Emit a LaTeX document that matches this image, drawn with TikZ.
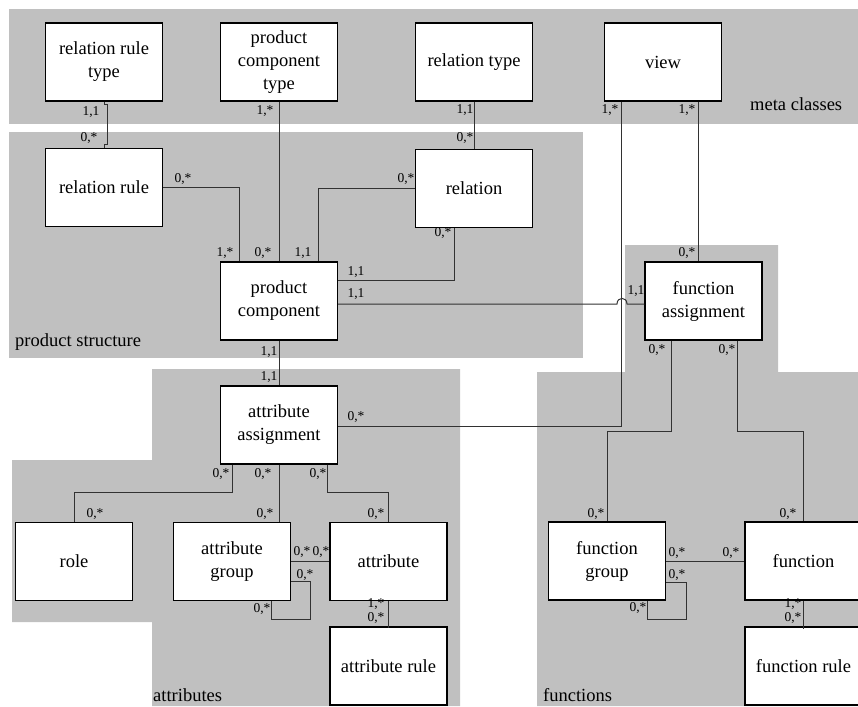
\documentclass[tikz,border=0pt]{standalone}
\usepackage{fontspec}
\setmainfont{Liberation Serif}
\usetikzlibrary{calc}
\definecolor{regiongray}{RGB}{192,192,192}
\definecolor{linegray}{RGB}{50,50,50}
\begin{document}
\begin{tikzpicture}[x=1pt,y=-1pt,
  box/.style={draw=black, line width=1.1pt, fill=white, minimum width=117pt, minimum height=78pt, inner sep=0pt, align=center, font=\fontsize{18.5}{23}\selectfont},
  conn/.style={draw=linegray, line width=1pt},
  mult/.style={font=\fontsize{13.5}{14}\selectfont, inner sep=0pt},
  region/.style={fill=regiongray, draw=none},
  rlabel/.style={font=\fontsize{18.5}{22}\selectfont, inner sep=0pt, anchor=west}]
\clip (0,0) rectangle (858,706);
\fill[white] (0,0) rectangle (858,706);
% regions
\fill[region] (9,9) rectangle (858,124);
\fill[region] (9,132) rectangle (583,358);
\fill[region] (537,372) -- (625,372) -- (625,245) -- (778,245) -- (778,372) -- (858,372) -- (858,706) -- (537,706) -- cycle;
\fill[region] (152,369) -- (460,369) -- (460,706) -- (152,706) -- (152,622) -- (12,622) -- (12,460) -- (152,460) -- cycle;
\node[rlabel] (lmeta) at (750,104) {meta classes};
\node[rlabel] (lprod) at (15,342) {product structure};
\node[rlabel] (lattr) at (153,695) {attributes};
\node[rlabel] (lfunc) at (543,695) {functions};
% nodes
\node[box] (rrt) at (104,62) {relation rule\\type};
\node[box] (pct) at (279,62) {product\\component\\type};
\node[box] (rt) at (474,62) {relation type};
\node[box] (view) at (663,62) {view};
\node[box] (rr) at (104,187.5) {relation rule};
\node[box] (rel) at (474,188.5) {relation};
\node[box] (pc) at (279,301) {product\\component};
\node[box] (fa) at (703.5,301) {function\\assignment};
\node[box] (aa) at (279,425) {attribute\\assignment};
\node[box] (role) at (74,561.5) {role};
\node[box] (ag) at (232,561.5) {attribute\\group};
\node[box] (attr) at (388.5,561.5) {attribute};
\node[box] (ar) at (388.5,666) {attribute rule};
\node[box] (fg) at (607,561) {function\\group};
\node[box] (fn) at (803.5,561) {function};
\node[box] (fr) at (803.5,666) {function rule};
% connectors
\draw[conn] (rrt.south) -- ++(0,3) -- ++(3,0) |- ($(rr.north)+(3,-3)$) -- ++(-3,0) -- (rr.north);
\draw[conn] (pct.south) -- (pc.north);
\draw[conn] (rt.south) -- (rel.north);
\coordinate (b1) at ($(pc.north west)+(20,0)$);
\draw[conn] (rr.east) -| (b1);
\coordinate (b2) at ($(pc.north west)+(99,0)$);
\draw[conn] (rel.west) -| (b2);
\coordinate (b3) at ($(rel.south west)+(40,0)$);
\coordinate (b4) at ($(pc.north east)+(0,19)$);
\draw[conn] (b3) |- (b4);
\coordinate (h0) at ($(pc.east)+(0,3)$);
\coordinate (h1) at ($(fa.west)+(0,3)$);
\draw[conn] (h0) -- (617,304) .. controls (617,296.5) and (627,296.5) .. (627,304) -- (h1);
\coordinate (v1) at ($(view.south west)+(18,0)$);
\coordinate (v1e) at ($(aa.east)+(0,1)$);
\draw[conn] (v1) |- (v1e);
\coordinate (v2) at ($(view.south)+(35,0)$);
\draw[conn] (v2) -- (v2 |- fa.north);
\draw[conn] (pc.south) -- (aa.north);
\coordinate (a1) at ($(aa.south)+(-47,0)$);
\draw[conn] (a1) -- ++(0,28) -| (role.north);
\draw[conn] (aa.south) -- (aa.south |- ag.north);
\coordinate (a3) at ($(aa.south)+(48,0)$);
\draw[conn] (a3) -- ++(0,28) -| (attr.north);
\draw[conn] (ag.east) -- (attr.west);
\coordinate (l1) at ($(ag.east)+(0,20)$);
\coordinate (l2) at ($(ag.south)+(39,0)$);
\draw[conn] (l1) -- ++(19,0) -- ++(0,37.5) -| (l2);
\coordinate (r1) at ($(ar.north)+(0,2)$);
\draw[conn] (attr.south) -- (r1);
\coordinate (f1) at ($(fa.south)+(-32.5,0)$);
\draw[conn] (f1) -- ++(0,91) -| (fg.north);
\coordinate (f2) at ($(fa.south)+(33.5,0)$);
\draw[conn] (f2) -- ++(0,91) -| (fn.north);
\draw[conn] (fg.east) -- (fn.west);
\coordinate (g1) at ($(fg.east)+(0,21)$);
\coordinate (g2) at ($(fg.south)+(40,0)$);
\draw[conn] (g1) -- ++(20,0) -- ++(0,37) -| (g2);
\coordinate (r2) at ($(fr.north)+(0,3)$);
\draw[conn] (fn.south) -- (r2);
% multiplicities
\node[mult] (m1) at (91,112) {1,1};
\node[mult] (m2) at (89,138) {0,*};
\node[mult] (m3) at (265,111) {1,*};
\node[mult] (m4) at (183,179) {0,*};
\node[mult] (m5) at (406,179) {0,*};
\node[mult] (m6) at (465,110) {1,1};
\node[mult] (m7) at (465,138) {0,*};
\node[mult] (m8) at (443,233) {0,*};
\node[mult] (m9) at (610,110) {1,*};
\node[mult] (m10) at (687,110) {1,*};
\node[mult] (m11) at (225,253) {1,*};
\node[mult] (m12) at (263,253) {0,*};
\node[mult] (m13) at (303,253) {1,1};
\node[mult] (m14) at (356,272) {1,1};
\node[mult] (m15) at (356,294) {1,1};
\node[mult] (m16) at (269,352) {1,1};
\node[mult] (m17) at (269,377) {1,1};
\node[mult] (m18) at (356,417) {0,*};
\node[mult] (m19) at (687,253) {0,*};
\node[mult] (m20) at (636,291) {1,1};
\node[mult] (m21) at (657,350) {0,*};
\node[mult] (m22) at (727,350) {0,*};
\node[mult] (m23) at (221,474) {0,*};
\node[mult] (m24) at (263,474) {0,*};
\node[mult] (m25) at (318,474) {0,*};
\node[mult] (m26) at (95,514) {0,*};
\node[mult] (m27) at (265,514) {0,*};
\node[mult] (m28) at (376,514) {0,*};
\node[mult] (m29) at (302,552) {0,*};
\node[mult] (m30) at (321,552) {0,*};
\node[mult] (m31) at (305,575) {0,*};
\node[mult] (m32) at (262,609) {0,*};
\node[mult] (m33) at (376,604) {1,*};
\node[mult] (m34) at (376,618) {0,*};
\node[mult] (m35) at (596,514) {0,*};
\node[mult] (m36) at (788,514) {0,*};
\node[mult] (m37) at (677,553) {0,*};
\node[mult] (m38) at (731,553) {0,*};
\node[mult] (m39) at (677,575) {0,*};
\node[mult] (m40) at (638,608) {0,*};
\node[mult] (m41) at (793,604) {1,*};
\node[mult] (m42) at (793,618) {0,*};
\end{tikzpicture}
\end{document}
